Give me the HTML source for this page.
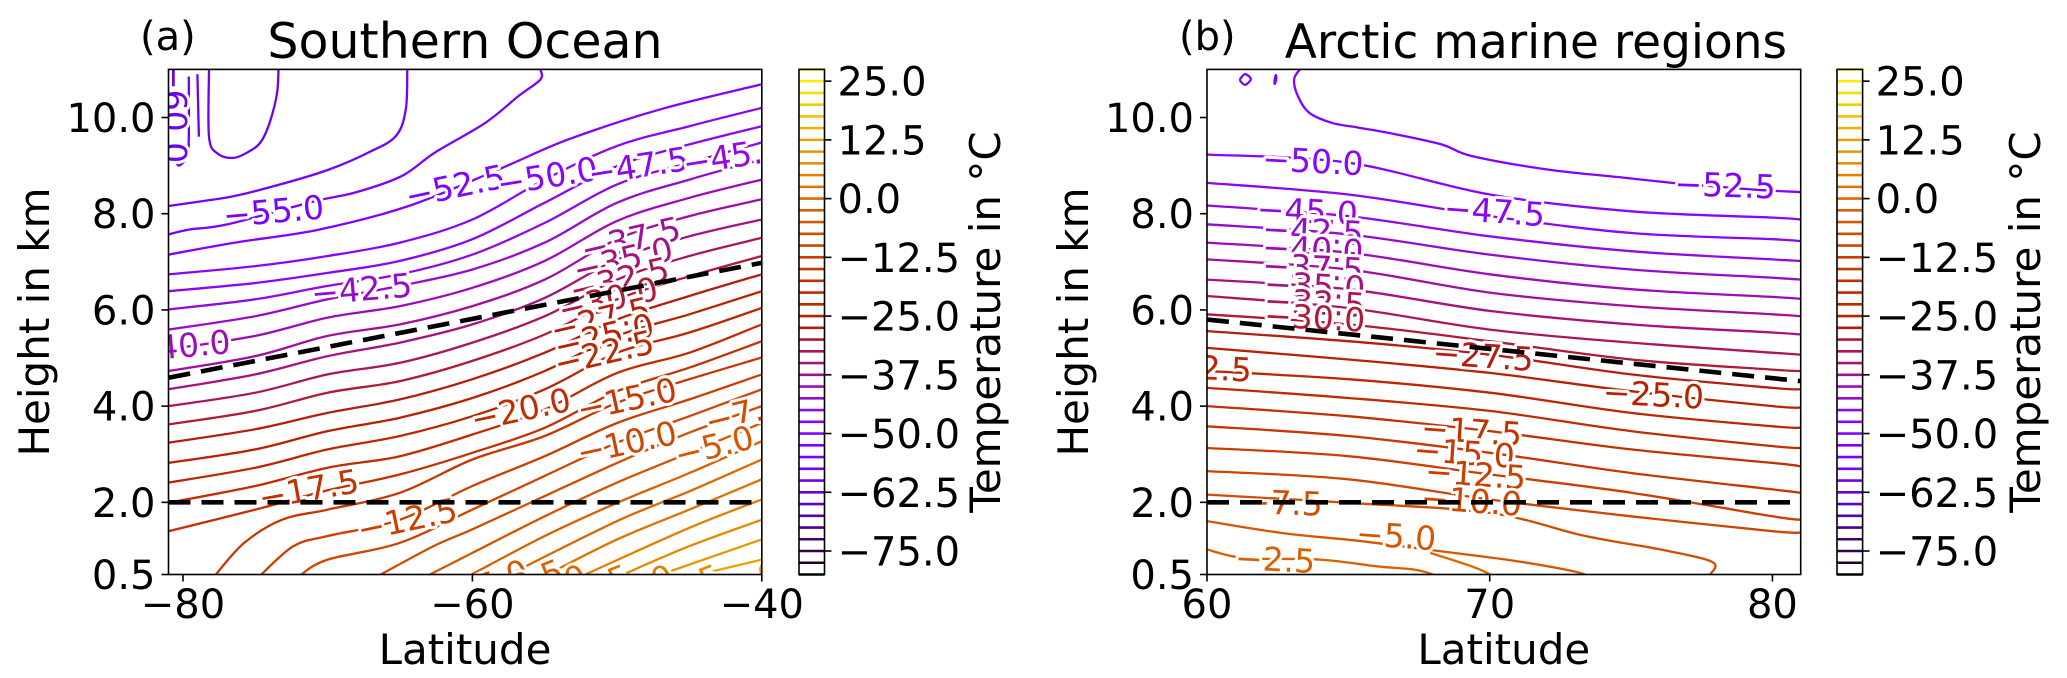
<!DOCTYPE html>
<html><head><meta charset="utf-8"><style>
html,body{margin:0;padding:0;background:#fff;}
svg{display:block;font-family:"DejaVu Sans","Liberation Sans",sans-serif;}
</style></head><body>
<svg id="fig" xmlns="http://www.w3.org/2000/svg" width="2067" height="678" viewBox="0 0 2067 678">
<defs>
<clipPath id="clipA"><rect x="168.5" y="69.4" width="593.3" height="505.1"/></clipPath>
<clipPath id="clipB"><rect x="1207" y="69.4" width="593.7" height="505.1"/></clipPath>
</defs>
<rect x="0" y="0" width="2067" height="678" fill="#fff"/>
<g id="panelA"></g>
<g id="panelB"></g>
<g id="cbars"></g>
</svg>
<script>
// ---------- Panel A data (lat, height km) ----------
const latGridA = [-81,-75,-70,-65,-60,-55,-50,-45,-40];
const levelsA = [-50,-47.5,-45,-42.5,-40,-37.5,-35,-32.5,-30,-27.5,-25,-22.5,-20,-17.5];
const heightsA = [
 [6.74,6.91,7.12,7.40,7.88,8.71,9.41,9.82,10.20],
 [6.39,6.56,6.77,7.02,7.47,8.23,8.99,9.44,9.82],
 [6.01,6.22,6.50,6.74,7.15,7.81,8.61,9.06,9.48],
 [5.59,5.87,6.22,6.50,6.84,7.40,8.23,8.71,9.13],
 [5.18,5.46,5.84,6.08,6.46,7.02,7.85,8.33,8.71],
 [4.73,5.04,5.46,5.70,6.08,6.63,7.47,7.95,8.30],
 [4.35,4.66,5.04,5.32,5.70,6.25,7.05,7.53,7.88],
 [4.00,4.28,4.66,4.90,5.32,5.87,6.63,7.12,7.50],
 [3.62,3.90,4.28,4.52,4.94,5.49,6.22,6.70,7.12],
 [3.24,3.52,3.86,4.14,4.56,5.11,5.80,6.29,6.74],
 [2.82,3.10,3.48,3.76,4.17,4.73,5.46,5.91,6.39],
 [2.41,2.72,3.10,3.38,3.79,4.35,5.11,5.53,6.04],
 [1.99,2.34,2.72,2.96,3.41,3.93,4.69,5.11,5.70],
 [1.40,1.85,2.25,2.58,3.03,3.55,4.31,4.80,5.35]
];
const extraLevelsA = [-60,-60,-60,-57.5,-55,-52.5,-15,-12.5,-10,-7.5,-5,-2.5,0,2.5,5,7.5,10,12.5];
const extraLatsA = [
 [-78.2,-78.2,-77.6,-76.5,-75.4,-74.6,-74.0,-73.5,-73.4],
 [-79.6,-79.6,-79.7,-80.3,-80.5],
 [-79.0,-78.95,-78.9],
 [-64.5,-64.6,-65.3,-67.2,-69.9,-72.9,-76.4,-78.7,-81],
 [-55.3,-55.3,-56.8,-59.1,-62.6,-64.9,-68.1,-70.9,-76.9,-79.6,-81],
 [-81,-76.4,-70.6,-64.4,-58.2,-53.4,-47,-40],
 [-77.73,-75.76,-73.15,-70,-65,-60,-55,-50,-45,-40],
 [-74.59,-72.36,-70,-65,-60,-55,-50,-45,-40],
 [-71.84,-70,-65,-60,-55,-50,-45,-40],
 [-66.34,-62.68,-60,-55,-50,-45,-40],
 [-62.94,-60,-55,-50,-45,-40],
 [-60.06,-55,-50,-45,-40],
 [-57.44,-50,-45,-40],
 [-54.82,-50,-45,-40],
 [-52.2,-45,-40],
 [-49.59,-45,-40],
 [-46.97,-40],
 [-44.35,-40]
];
const extraHeightsA = [
 [11,9.6,9.25,9.16,9.3,9.5,9.9,10.5,11],
 [10.85,9.6,9.2,9.0,9.2],
 [10.9,10.2,9.6],
 [11,10.17,9.61,9.27,8.92,8.64,8.37,8.26,8.16],
 [11,10.79,10.45,9.89,9.27,8.78,8.44,8.26,7.78,7.67,7.57],
 [7.15,7.40,7.67,8.16,8.92,9.54,10.17,10.69],
 [0.50,1.16,1.64,1.85,2.20,2.89,3.38,4.07,4.56,5.01],
 [0.50,1.09,1.30,1.64,2.34,2.96,3.65,4.14,4.66],
 [0.50,0.81,1.16,1.85,2.55,3.24,3.79,4.35],
 [0.50,1.09,1.44,2.13,2.82,3.45,4.00],
 [0.50,0.95,1.71,2.41,3.03,3.65],
 [0.50,1.30,1.99,2.61,3.27],
 [0.50,1.61,2.23,2.89],
 [0.50,1.23,1.85,2.48],
 [0.50,1.47,2.06],
 [0.50,1.09,1.64],
 [0.50,1.23],
 [0.50,0.81]
];
const labelTextA = ["−55.0","−52.5","−50.0","−47.5","−45.0","−42.5","−40.0","−37.5","−35.0","−32.5","−30.0","−27.5","−25.0","−22.5","−20.0","−15.0","−10.0","−7.5","−5.0","−17.5","−12.5","−5.0","−2.5","0.0","2.5","5.0","7.5","10.0","−60.0"];
const labelLevelA = [-55,-52.5,-50,-47.5,-45,-42.5,-40,-37.5,-35,-32.5,-30,-27.5,-25,-22.5,-20,-15,-10,-7.5,-5,-17.5,-12.5,-5,-2.5,0,2.5,5,7.5,10,-60];
const labelLatA = [-73.74,-61.19,-54.82,-48.54,-42.0,-67.65,-80.2,-49.06,-49.59,-49.85,-50.63,-51.16,-50.9,-50.9,-56.65,-49.33,-49.33,-41.2,-43.3,-71.31,-64.5,-58.8,-56.4,-53.9,-50.9,-47.9,-44.6,-41.2,-80.6];
const labelHA = [8.05,8.57,8.78,8.99,9.20,6.43,5.25,7.47,7.05,6.63,6.22,5.80,5.46,5.11,3.93,4.14,3.24,3.86,3.17,2.27,1.64,0.30,0.30,0.30,0.30,0.30,0.30,0.30,10.1];
const labelRotA = [-5,-12,-9,-9,-9,-5,-5,-13,-13,-13,-13,-13,-13,-13,-12,-12,-12,-14,-14,-10,-12,-22,-22,-22,-22,-22,-22,-22,90];

// ---------- Panel B data ----------
const latGridB = [60,65,70,75,80,81];
const levelsB = [-50,-47.5,-45,-42.5,-40,-37.5,-35,-32.5,-30,-27.5,-25,-22.5,-20,-17.5,-15,-12.5,-10];
const heightsB = [
 [9.23,9.06,8.40,8.05,7.92,7.88],
 [8.64,8.40,7.95,7.60,7.47,7.43],
 [8.17,7.95,7.53,7.22,7.05,7.02],
 [7.78,7.57,7.15,6.84,6.67,6.63],
 [7.40,7.19,6.74,6.43,6.27,6.23],
 [7.05,6.84,6.36,6.08,5.91,5.87],
 [6.63,6.43,5.98,5.70,5.53,5.49],
 [6.29,6.04,5.59,5.32,5.11,5.07],
 [5.91,5.70,5.35,4.97,4.76,4.73],
 [5.56,5.35,5.07,4.66,4.38,4.35],
 [5.21,4.97,4.69,4.31,4.00,3.97],
 [4.73,4.56,4.28,3.86,3.58,3.55],
 [4.38,4.17,3.90,3.48,3.17,3.13],
 [4.00,3.79,3.48,3.10,2.82,2.75],
 [3.58,3.38,3.03,2.61,2.27,2.20],
 [3.13,2.96,2.58,2.20,1.71,1.64],
 [2.65,2.48,2.06,1.71,1.40,1.37]
];
const extraLevelsB = [-52.5,-7.5,-5,-2.5,0,-55,-55];
const extraLatsB = [
 [63.28,63.08,63.21,63.61,64.41,65.35,66.42,68.29,69.36,72.04,74.72,76.45,77.3,79.4,81],
 [60,65,70,73.38,76.05,77.87,77.8],
 [60,62.68,65.35,68.03,70.7,72.71,73.38],
 [60,61.34,64.0,66.0,67.36,68.0],
 [67.9,69.36,70.03],
 [61.15,61.34,61.55,61.34,61.15],
 [62.38,62.43,62.45,62.40,62.38]
];
const extraHeightsB = [
 [11,10.79,10.45,10.10,9.89,9.79,9.68,9.44,9.20,8.92,8.75,8.64,8.60,8.50,8.45],
 [2.16,1.99,1.78,1.30,1.02,0.76,0.50],
 [1.61,1.36,1.20,1.00,0.80,0.60,0.50],
 [1.02,0.84,0.81,0.67,0.60,0.50],
 [0.95,0.67,0.50],
 [10.78,10.90,10.80,10.68,10.78],
 [10.74,10.88,10.80,10.70,10.74]
];
const labelTextB = ["−50.0","−52.5","−47.5","−45.0","−42.5","−40.0","−37.5","−35.0","−32.5","−30.0","−27.5","−25.0","−22.5","−17.5","−15.0","−12.5","−10.0","−7.5","−5.0","−2.5"];
const labelLevelB = [-50,-52.5,-47.5,-45,-42.5,-40,-37.5,-35,-32.5,-30,-27.5,-25,-22.5,-17.5,-15,-12.5,-10,-7.5,-5,-2.5];
const labelLatB = [63.75,78.33,70.17,63.55,63.75,63.75,63.75,63.81,63.81,63.81,69.77,75.79,59.8,69.36,69.1,69.5,69.36,62.68,66.69,62.41];
const labelHB = [9.09,8.59,8.05,8.05,7.64,7.26,6.88,6.50,6.15,5.84,5.04,4.24,4.80,3.48,3.03,2.58,2.03,1.99,1.30,0.81];
const labelRotB = [3,2,4,3,3,3,3,3,3,3,4,3,3,4,4,4,4,2,4,3];

// ---------- Axis ticks ----------
const yTicks = [0.5,2,4,6,8,10];
const yTickText = ["0.5","2.0","4.0","6.0","8.0","10.0"];
const xTicksA = [-80,-60,-40];
const xTickTextA = ["−80","−60","−40"];
const xTicksB = [60,70,80];
const xTickTextB = ["60","70","80"];
const cbTicks = [25,12.5,0,-12.5,-25,-37.5,-50,-62.5,-75];
const cbTickText = ["25.0","12.5","0.0","−12.5","−25.0","−37.5","−50.0","−62.5","−75.0"];
const tropoA = [[-81,4.59],[-40,6.98]];
const tropoB = [[60,5.80],[81,4.52]];
const boundaryH = 2.0;

// ---------- Scales ----------
const H0=0.5,H1=11,YB=574.5,YT=69.4;
function yS(h){return YB-(h-H0)*(YB-YT)/(H1-H0);}
function xA(l){return 168.5+(l+81)*(593.3/41);}
function xB(l){return 1207+(l-60)*(593.7/21);}
const V0=-80,V1=27.5;
function yC(v){return YB-(v-V0)*(YB-YT)/(V1-V0);}
function cmap(v){
  const x=Math.max(0,Math.min(1,(v-V0)/(V1-V0)));
  const r=Math.sqrt(x), g=x*x*x, b=Math.max(0,Math.sin(2*Math.PI*x));
  return 'rgb('+Math.round(r*255)+','+Math.round(g*255)+','+Math.round(b*255)+')';
}
const NS='http://www.w3.org/2000/svg';
function mk(tag,attrs,parent){const e=document.createElementNS(NS,tag);for(const k in attrs)e.setAttribute(k,attrs[k]);if(parent)parent.appendChild(e);return e;}
function smooth(p){
  if(p.length<3){return 'M'+p.map(q=>q[0].toFixed(1)+','+q[1].toFixed(1)).join(' L');}
  let d='M'+p[0][0].toFixed(1)+','+p[0][1].toFixed(1);
  for(let i=0;i<p.length-1;i++){
    const p0=p[Math.max(0,i-1)],p1=p[i],p2=p[i+1],p3=p[Math.min(p.length-1,i+2)];
    const c1=[p1[0]+(p2[0]-p0[0])/6,p1[1]+(p2[1]-p0[1])/6];
    const c2=[p2[0]-(p3[0]-p1[0])/6,p2[1]-(p3[1]-p1[1])/6];
    d+=' C'+c1[0].toFixed(1)+','+c1[1].toFixed(1)+' '+c2[0].toFixed(1)+','+c2[1].toFixed(1)+' '+p2[0].toFixed(1)+','+p2[1].toFixed(1);
  }
  return d;
}
function drawContour(g,xf,lats,hs,level){
  const pts=lats.map((l,i)=>[xf(l),yS(hs[i])]);
  const p=mk('path',{d:smooth(pts),fill:'none',stroke:cmap(level),'stroke-width':2.3,'stroke-linejoin':'round'},g);
  
  
}
function drawLabel(g,xf,txt,lev,lat,h,rot){
  const x=xf(lat),y=yS(h);
  const t=mk('text',{x:x,y:y,'font-size':33,'text-anchor':'middle','dominant-baseline':'central',fill:cmap(lev),stroke:'#fff','stroke-width':6,'paint-order':'stroke','stroke-linejoin':'round',transform:'rotate('+rot+' '+x+' '+y+')'},g);
  t.textContent=txt;
  
  
}
function panel(root,xf,x0,x1,clip,levels,grid,heights,exL,exLat,exH,lT,lL,lLat,lH,lR,tropo,xt,xtt){
  const g=mk('g',{'clip-path':'url(#'+clip+')'},root);
  
  
  levels.forEach((lv,i)=>drawContour(g,xf,grid,heights[i],lv));
  exL.forEach((lv,i)=>drawContour(g,xf,exLat[i],exH[i],lv));
  lT.forEach((t,i)=>drawLabel(g,xf,t,lL[i],lLat[i],lH[i],lR[i]));
  const d1=mk('line',{x1:xf(tropo[0][0]),y1:yS(tropo[0][1]),x2:xf(tropo[1][0]),y2:yS(tropo[1][1]),stroke:'#000','stroke-width':4.6,'stroke-dasharray':'22,11'},g);
  
  
  const d2=mk('line',{x1:x0,y1:yS(boundaryH),x2:x1,y2:yS(boundaryH),stroke:'#000','stroke-width':4.6,'stroke-dasharray':'22,11'},g);
  
  
  const fr=mk('rect',{x:x0,y:YT,width:x1-x0,height:YB-YT,fill:'none',stroke:'#000','stroke-width':1.6},root);
  
  
  yTicks.forEach((v,i)=>{
    const y=yS(v);
    const tk=mk('line',{x1:x0-7,y1:y,x2:x0,y2:y,stroke:'#000','stroke-width':1.6},root);
    
    
    const t=mk('text',{x:x0-13,y:y+14.5,'font-size':40,'text-anchor':'end',fill:'#000'},root);
    t.textContent=yTickText[i];
    
    
  });
  xt.forEach((v,i)=>{
    const x=xf(v);
    const tk=mk('line',{x1:x,y1:YB,x2:x,y2:YB+7,stroke:'#000','stroke-width':1.6},root);
    
    
    const t=mk('text',{x:x,y:618,'font-size':40,'text-anchor':'middle',fill:'#000'},root);
    t.textContent=xtt[i];
    
    
  });
}
const A=document.getElementById('panelA'), B=document.getElementById('panelB');
panel(A,xA,168.5,761.8,'clipA',levelsA,latGridA,heightsA,extraLevelsA,extraLatsA,extraHeightsA,labelTextA,labelLevelA,labelLatA,labelHA,labelRotA,tropoA,xTicksA,xTickTextA);
panel(B,xB,1207,1800.7,'clipB',levelsB,latGridB,heightsB,extraLevelsB,extraLatsB,extraHeightsB,labelTextB,labelLevelB,labelLatB,labelHB,labelRotB,tropoB,xTicksB,xTickTextB);

// colorbars
const cb=document.getElementById('cbars');
[[799,824.5,'a'],[1837,1862.6,'b']].forEach(c=>{
  const g=mk('g',{},cb);
  
  
  for(let v=V0; v<=V1+0.001; v+=2.5){
    const l=mk('line',{x1:c[0],y1:yC(v),x2:c[1],y2:yC(v),stroke:cmap(v),'stroke-width':2.6},g);
    
    
  }
  mk('rect',{x:c[0],y:YT,width:c[1]-c[0],height:YB-YT,fill:'none',stroke:'#000','stroke-width':1.6},g);
  cbTicks.forEach((v,i)=>{
    const y=yC(v);
    const tk=mk('line',{x1:c[1],y1:y,x2:c[1]+7,y2:y,stroke:'#000','stroke-width':1.6},g);
    
    
    const t=mk('text',{x:c[1]+13,y:y+14.5,'font-size':40,fill:'#000'},g);
    t.textContent=cbTickText[i];
    
    
  });
});
(function(){
const svg=document.getElementById('fig');
function T(x,y,size,txt,anchor,name,rot){
  const t=document.createElementNS(NS,'text');
  t.setAttribute('x',x);t.setAttribute('y',y);t.setAttribute('font-size',size);
  t.setAttribute('text-anchor',anchor);t.setAttribute('fill','#000');
  if(rot)t.setAttribute('transform','rotate(-90 '+x+' '+y+')');
  t.textContent=txt;
  
  
  svg.appendChild(t);
}
T(140,50,40,'(a)','start','panel-a-letter');
T(465,58,49,'Southern Ocean','middle','panel-a-title');
T(1179,50,40,'(b)','start','panel-b-letter');
T(1787,58,47,'Arctic marine regions','end','panel-b-title');
T(465,664,42,'Latitude','middle','x-axis-title-a');
T(1503.8,664,42,'Latitude','middle','x-axis-title-b');
T(49,322,42,'Height in km','middle','y-axis-title-a',true);
T(1088,322,42,'Height in km','middle','y-axis-title-b',true);
T(1000,322,42,'Temperature in °C','middle','colorbar-title-a',true);
T(2040,322,42,'Temperature in °C','middle','colorbar-title-b',true);
})();
</script>
</body></html>
